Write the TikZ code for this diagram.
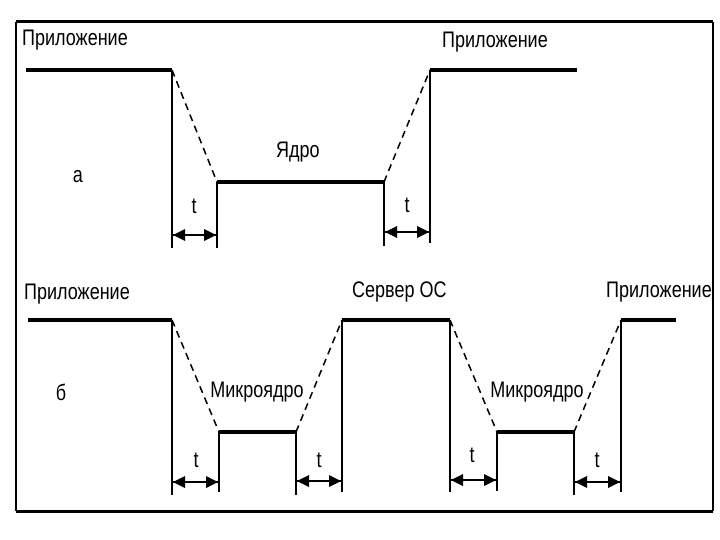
\documentclass[tikz,border=0pt]{standalone}
\usepackage{fontspec}
\setmainfont{Liberation Sans}[FakeStretch=0.8]
\newcommand\dimarr[2]{%
  \draw[line width=2.4pt] (#1) -- (#2);
  \path[fill=black] (#1) -- ++(12pt,-6pt) -- ++(0pt,12pt) -- cycle;
  \path[fill=black] (#2) -- ++(-12pt,-6pt) -- ++(0pt,12pt) -- cycle;}
\begin{document}
\begin{tikzpicture}[x=1pt,y=-1pt,
  levelline/.style={line width=3.6pt},
  edgeline/.style={line width=1.6pt},
  trans/.style={line width=1.5pt,dash pattern=on 7pt off 5pt},
  lbl/.style={inner sep=0pt,anchor=base west,font=\fontsize{22.5}{26}\selectfont},
  tl/.style={inner sep=0pt,anchor=base,font=\fontsize{22.5}{26}\selectfont}]
\useasboundingbox (0,0) rectangle (720,540);
\fill[white] (0,0) rectangle (720,540);
% frame
\draw[line width=3pt] (16,22) -- (713,22);
\draw[line width=3pt] (16,511) -- (713,511);
\draw[line width=2.5pt] (16,22) -- (16,511);
\draw[line width=1.6pt] (713,22) -- (713,511);

% ---------- (a) ----------
\coordinate (a0) at (26,70);
\coordinate (a1) at (172,70);
\coordinate (a1b) at (172,248);
\coordinate (a2) at (217,182);
\coordinate (a2b) at (217,248);
\coordinate (a3) at (384,182);
\coordinate (a3b) at (384,246);
\coordinate (a4) at (430,70);
\coordinate (a4b) at (430,243);
\coordinate (a5) at (577,70);
\draw[levelline] (a0) -- (a1);
\draw[edgeline] (a1) -- (a1b);
\draw[trans] (a1) -- (a2);
\draw[levelline] (a2) -- (a3);
\draw[edgeline] (a2) -- (a2b);
\draw[edgeline] (a3) -- (a3b);
\draw[trans] (a3) -- (a4);
\draw[levelline] (a4) -- (a5);
\draw[edgeline] (a4) -- (a4b);
\coordinate (aS1) at (173,235); \coordinate (aE1) at (216,235);
\coordinate (aS2) at (385,232); \coordinate (aE2) at (429,232);
\dimarr{aS1}{aE1}
\dimarr{aS2}{aE2}
\node[lbl] (appA1) at (22,46) {Приложение};
\node[lbl] (appA2) at (442,48) {Приложение};
\node[tl] (core) at (298,158) {Ядро};
\node[tl] (ta) at (78,183) {а};
\node[tl] (tA1) at (194,214) {t};
\node[tl] (tA2) at (407,212) {t};

% ---------- (b) ----------
\coordinate (b0) at (28,320);
\coordinate (b1) at (172,320);
\coordinate (b1b) at (172,495);
\coordinate (b2) at (219,432);
\coordinate (b2b) at (219,492);
\coordinate (b3) at (296,432);
\coordinate (b3b) at (296,495);
\coordinate (b4) at (342,320);
\coordinate (b4b) at (342,492);
\coordinate (b5) at (450,320);
\coordinate (b5b) at (450,492);
\coordinate (b6) at (497,432);
\coordinate (b6b) at (497,491);
\coordinate (b7) at (574,432);
\coordinate (b7b) at (574,495);
\coordinate (b8) at (621,320);
\coordinate (b8b) at (621,492);
\coordinate (b9) at (676,320);
\draw[levelline] (b0) -- (b1);
\draw[edgeline] (b1) -- (b1b);
\draw[trans] (b1) -- (b2);
\draw[levelline] (b2) -- (b3);
\draw[edgeline] (b2) -- (b2b);
\draw[edgeline] (b3) -- (b3b);
\draw[trans] (b3) -- (b4);
\draw[levelline] (b4) -- (b5);
\draw[edgeline] (b4) -- (b4b);
\draw[edgeline] (b5) -- (b5b);
\draw[trans] (b5) -- (b6);
\draw[levelline] (b6) -- (b7);
\draw[edgeline] (b6) -- (b6b);
\draw[edgeline] (b7) -- (b7b);
\draw[trans] (b7) -- (b8);
\draw[levelline] (b8) -- (b9);
\draw[edgeline] (b8) -- (b8b);
\coordinate (bS1) at (173,482); \coordinate (bE1) at (218,482);
\coordinate (bS2) at (297,481); \coordinate (bE2) at (341,481);
\coordinate (bS3) at (451,480); \coordinate (bE3) at (496,480);
\coordinate (bS4) at (575,482); \coordinate (bE4) at (620,482);
\dimarr{bS1}{bE1}
\dimarr{bS2}{bE2}
\dimarr{bS3}{bE3}
\dimarr{bS4}{bE4}
\node[lbl] (appB1) at (24,299) {Приложение};
\node[lbl] (srv) at (352,297) {Сервер ОС};
\node[lbl] (appB2) at (606,297) {Приложение};
\node[tl] (mk1) at (257,397) {Микроядро};
\node[tl] (mk2) at (537,397) {Микроядро};
\node[tl] (tb) at (61,400) {б};
\node[tl] (tB1) at (196,467) {t};
\node[tl] (tB2) at (319,467) {t};
\node[tl] (tB3) at (472,462) {t};
\node[tl] (tB4) at (597,467) {t};
\end{tikzpicture}
\end{document}
